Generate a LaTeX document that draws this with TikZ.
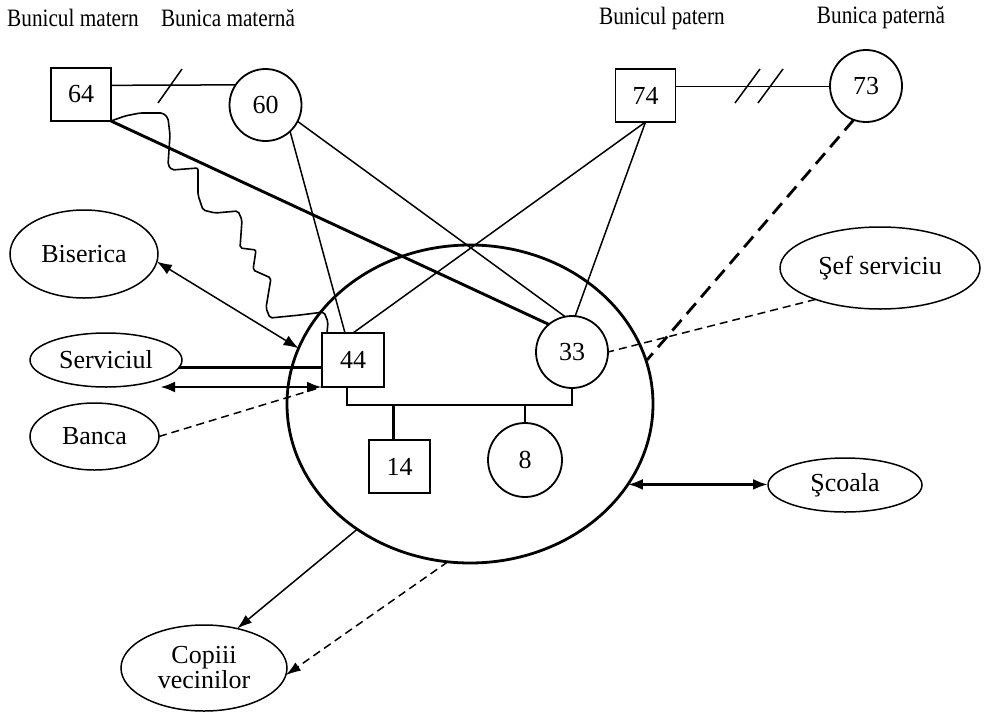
\documentclass[tikz,border=0pt]{standalone}
\usepackage{fontspec}
\setmainfont{Liberation Serif}
\newfontfamily\narrowserif[FakeStretch=0.85]{Liberation Serif}
\usetikzlibrary{shapes.geometric,arrows.meta}
\begin{document}
\begin{tikzpicture}[x=1pt,y=-1pt,
  every node/.style={font=\fontsize{26}{25}\selectfont, inner sep=0pt, outer sep=0pt},
  person/.style={draw, line width=1.8pt},
  male/.style={person, rectangle, minimum width=60pt, minimum height=53pt},
  female/.style={person, circle, minimum size=72pt},
  oval/.style={draw, ellipse, line width=1.5pt},
  household/.style={draw, ellipse, line width=2.8pt, minimum width=366pt, minimum height=318pt},
  gentitle/.style={font=\narrowserif\fontsize{25}{25}\selectfont},
  tie/.style={line width=1.5pt},
  strong/.style={line width=2.9pt},
  famline/.style={line width=2.8pt},
  weak/.style={line width=1.5pt, dash pattern=on 8pt off 5pt},
  stress/.style={line width=2.8pt, dash pattern=on 14pt off 8pt},
  arrowend/.style={-{Latex[length=15pt,width=10pt]}},
  twoway/.style={{Latex[length=15pt,width=11pt]}-{Latex[length=15pt,width=11pt]}}
]
% canvas
\fill[white] (0,0) rectangle (984,712);
\useasboundingbox (0,0) rectangle (984,712);

% generation titles
\node[gentitle] (t1) at (73,18) {Bunicul matern};
\node[gentitle] (t2) at (228,18) {Bunica maternă};
\node[gentitle] (t3) at (662,18) {Bunicul patern};
\node[gentitle] (t4) at (881,18) {Bunica paternă};

% household boundary
\node[household] (fam) at (470,404) {};

% persons
\node[male] (n64) at (81,94.5) {64};
\node[female] (n60) at (265.5,105) {60};
\node[male] (n74) at (645.5,95.5) {74};
\node[female] (n73) at (866,86) {73};
\node[male, minimum width=62pt, minimum height=54pt] (n44) at (353,360) {44};
\node[female] (n33) at (572,352) {33};
\node[male, minimum width=61pt] (n14) at (399.5,466.5) {14};
\node[female, minimum size=74pt] (n8) at (525,460) {8};

% outside systems
\node[oval, minimum width=148pt, minimum height=88pt] (bis) at (84,254) {Biserica};
\node[oval, minimum width=152pt, minimum height=54pt] (serv) at (106,360) {Serviciul};
\node[oval, minimum width=129pt, minimum height=67pt] (banca) at (94.5,436.5) {Banca};
\node[oval, minimum width=200pt, minimum height=82pt] (sef) at (880,268) {Şef serviciu};
\node[oval, minimum width=154pt, minimum height=54pt] (scoala) at (845,485) {Şcoala};
\node[oval, minimum width=166pt, minimum height=86pt, align=center] (cop) at (204,668) {Copiii\\vecinilor};

% grandparents' unions (divorce marks)
\draw[tie] (n64.17.6) -- (n60.146.3);
\draw[tie] (158,103) -- (182,69);
\draw[tie] (n74.17.8) -- (n74.17.8 -| n73.west);
\draw[tie] (735,103) -- (760,69);
\draw[tie] (758,103) -- (783,69);

% relations between generations
\draw[strong] (n64.south east) -- (n33.130);
\draw[tie] (n60.-47) -- ([xshift=-8pt]n44.north);
\draw[tie] (n60.-27) -- (n33.101);
\draw[tie] (n74.south) -- (n44.north);
\draw[tie] (n74.south) -- (n33.85);
\coordinate (cut) at (647,360);
\draw[stress] (n73.250) -- (cut);

% conflictual relation
\draw[line width=1.6pt, rounded corners=2pt, line join=round]
  (n64.south east) -- (125,116) -- (140,113) -- (163,113) -- (168,118)
  -- (170,135) -- (168,165) -- (172,170) -- (198,168) -- (198,195)
  -- (203,210) -- (215,213) -- (238,211) -- (242,220) -- (240,248)
  -- (256,250) -- (253,270) -- (271,278) -- (266,308) -- (270,318)
  -- (300,315) -- (324,312) -- (328,322) -- ([xshift=5pt]n44.north west);

% nuclear family
\coordinate (bar) at (0,405);
\draw[famline] ([xshift=-6pt]n44.south) |- (n33.south |- bar) -- (n33.south);
\draw[famline] ([xshift=-6pt]n14.north) -- ([xshift=-6pt]n14.north |- bar);
\draw[famline] (n8.north) -- (n8.north |- bar);

% links to the outside
\draw[tie, twoway] (bis.-6) -- (fam.162.6);
\draw[strong] (serv.-6) -- (serv.-6 -| n44.west);
\draw[weak] (banca.east) -- (n44.south west);
\coordinate (servtip) at (160,387);
\draw[strong, twoway] (servtip) -- (n44.south west);
\draw[weak] (sef.206) -- (n33.east);
\draw[strong, twoway] (fam.-27.4) -- (fam.-27.4 -| scoala.west);
\draw[tie, arrowend] (fam.228.6) -- (cop.50);
\draw[weak, arrowend] (fam.262.8) -- (cop.-5);
\end{tikzpicture}
\end{document}
